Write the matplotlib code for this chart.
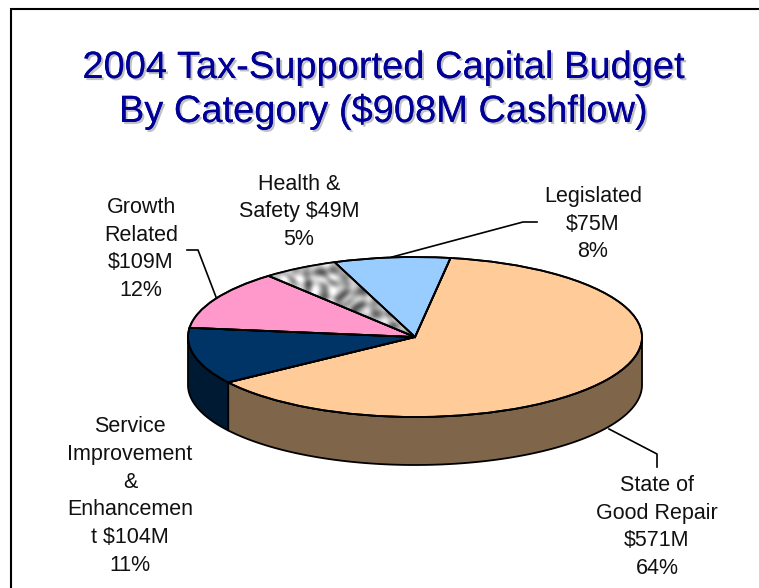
import numpy as np
import matplotlib
matplotlib.use("Agg")
import matplotlib.pyplot as plt
import matplotlib.patheffects as pe

plt.rcParams['font.family'] = ['Liberation Sans', 'DejaVu Sans']

# slices, clockwise from the orange one
categories = ["State of Good Repair", "Service Improvement & Enhancement",
              "Growth Related", "Health & Safety", "Legislated"]
amounts = [571, 104, 109, 49, 75]      # $M
shares = [64, 11, 12, 5, 8]            # %
colors = ["#FFCC99", "#003366", "#FF99CC", "#C0C0C0", "#99CCFF"]
wall_colors = ["#7F6549", "#001A33"]

title = "2004 Tax-Supported Capital Budget\nBy Category ($908M Cashflow)"
labels = ["State of\nGood Repair\n$571M\n64%",
          "Service\nImprovement\n&\nEnhancemen\nt $104M\n11%",
          "Growth\nRelated\n$109M\n12%",
          "Health &\nSafety $49M\n5%",
          "Legislated\n$75M\n8%"]
label_pos = [(657, 527), (130, 496), (141, 249), (299, 212), (593, 224)]
leaders = [[(609, 429), (657, 454), (657, 467)],
           [(187, 250), (198, 250), (216, 297)],
           [(392, 257), (523, 222), (537, 222)]]

start = 81
cx, cy, rx, ry, depth = 415, 337, 227, 80, 48

fig = plt.figure(figsize=(7.59, 5.88), dpi=100)

# page in pixel coords
bg = fig.add_axes([0, 0, 1, 1])
bg.set_xlim(0, 759)
bg.set_ylim(588, 0)
bg.axis('off')

# frame, only top and left
bg.plot([11, 11, 759], [588, 9, 9], color='black', lw=1.5, solid_joinstyle='miter')

# side wall
def wall(a0, a1, color):
  t = np.radians(np.linspace(a0, a1, 120))
  x = cx + rx * np.cos(t)
  y = cy - ry * np.sin(t)
  bg.fill(np.r_[x, x[::-1]], np.r_[y, y[::-1] + depth], facecolor=color,
          edgecolor='black', lw=1.3, joinstyle='round')

boundary = start - amounts[0] / sum(amounts) * 360 + 360
wall(boundary, 360, wall_colors[0])
wall(180, boundary, wall_colors[1])

# top of the pie
ax = fig.add_axes([(cx - rx) / 759, (588 - cy - ry) / 588, 2 * rx / 759, 2 * ry / 588])
wedges, _ = ax.pie(amounts, colors=colors, startangle=start, counterclock=False,
                   wedgeprops={'edgecolor': 'black', 'linewidth': 1.3})
for w in wedges:
  w.set_clip_on(False)

# mottled grey fill of the Health & Safety slice
xx, yy = np.meshgrid(np.linspace(0, 1, 240), np.linspace(0, 1, 80))
tex = (np.sin(83 * xx + 2.5 * np.sin(23 * yy)) * np.sin(29 * yy + 2 * np.sin(71 * xx))
       + 0.6 * np.sin(109 * xx + 41 * yy + 2 * np.sin(37 * xx - 19 * yy)))
img = ax.imshow(tex, cmap='gray', vmin=-2.9, vmax=1.3, extent=(-1, 1, -1, 1),
                aspect='auto', interpolation='bicubic', zorder=wedges[3].get_zorder())
img.set_clip_path(wedges[3])
outline = ax.pie(amounts, startangle=start, counterclock=False, colors=['none'] * 5,
                 wedgeprops={'edgecolor': 'black', 'linewidth': 1.3, 'zorder': 5})[0]
ax.set_aspect('auto')
ax.set_xlim(-1, 1)
ax.set_ylim(-1, 1)
for w in outline:
  w.set_clip_on(False)

# text on top of everything
top = fig.add_axes([0, 0, 1, 1])
top.set_xlim(0, 759)
top.set_ylim(588, 0)
top.axis('off')

for path in leaders:
  top.plot([p[0] for p in path], [p[1] for p in path], color='black', lw=1.2)

for lab, (x, y) in zip(labels, label_pos):
  top.text(x, y, lab, ha='center', va='center', fontsize=15.5, color='#111111', linespacing=1.42)

t = top.text(383, 90, title, ha='center', va='center', fontsize=27.4, color='#000099', linespacing=1.22)
t.set_path_effects([pe.withSimplePatchShadow(offset=(1.5, -1.5), shadow_rgbFace='#BBBBBB', alpha=0.9),
                    pe.Normal()])

fig.savefig("out.png", dpi=100)
